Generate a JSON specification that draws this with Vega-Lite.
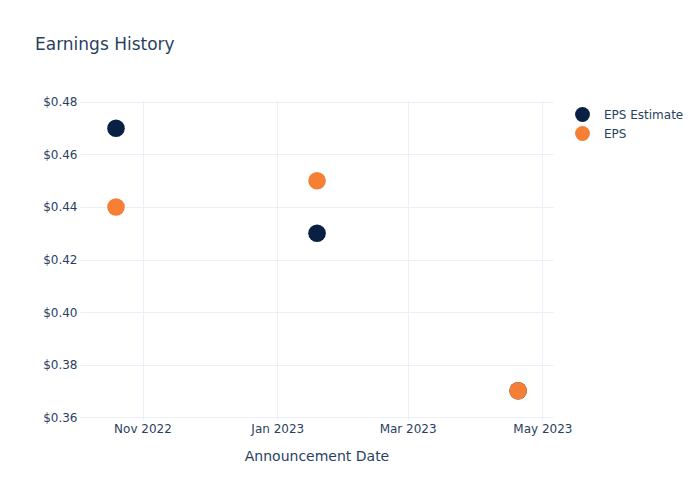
{
  "$schema": "https://vega.github.io/schema/vega-lite/v6.json",
  "width": 473,
  "height": 320,
  "autosize": "none",
  "padding": {"left": 80, "top": 100, "right": 147, "bottom": 80},
  "background": "white",
  "config": {
    "view": {"stroke": null},
    "font": "DejaVu Sans"
  },
  "title": {
    "text": "Earnings History",
    "anchor": "start",
    "frame": "group",
    "dx": -45,
    "offset": 42,
    "fontSize": 17,
    "fontWeight": "normal",
    "color": "#2a3f5f",
    "font": "DejaVu Sans"
  },
  "data": {
    "values": [
      {"date": "2022-10-20", "series": "EPS Estimate", "value": 0.47},
      {"date": "2023-01-19", "series": "EPS Estimate", "value": 0.43},
      {"date": "2023-04-20", "series": "EPS Estimate", "value": 0.37},
      {"date": "2022-10-20", "series": "EPS", "value": 0.44},
      {"date": "2023-01-19", "series": "EPS", "value": 0.45},
      {"date": "2023-04-20", "series": "EPS", "value": 0.37}
    ]
  },
  "mark": {"type": "point", "filled": true, "shape": "circle", "opacity": 1, "size": 310},
  "encoding": {
    "x": {
      "field": "date",
      "type": "temporal",
      "title": "Announcement Date",
      "scale": {"domain": ["2022-10-03T17:00:00", "2023-05-05T19:00:00"]},
      "axis": {
        "values": [
          {"year": 2022, "month": 11, "date": 1},
          {"year": 2023, "month": 1, "date": 1},
          {"year": 2023, "month": 3, "date": 1},
          {"year": 2023, "month": 5, "date": 1}
        ],
        "format": "%b %Y",
        "domain": false,
        "ticks": false,
        "labelPadding": 3,
        "labelFontSize": 12,
        "labelColor": "#2a3f5f",
        "labelFont": "DejaVu Sans",
        "gridColor": "#ebf0f8",
        "gridWidth": 1,
        "titleFontSize": 14,
        "titleFontWeight": "normal",
        "titleColor": "#2a3f5f",
        "titleFont": "DejaVu Sans",
        "titlePadding": 15
      }
    },
    "y": {
      "field": "value",
      "type": "quantitative",
      "title": null,
      "scale": {"domain": [0.35886, 0.48076], "nice": false, "zero": false},
      "axis": {
        "values": [0.36, 0.38, 0.40, 0.42, 0.44, 0.46, 0.48],
        "format": "$.2f",
        "domain": false,
        "ticks": false,
        "labelPadding": 3,
        "labelFontSize": 12,
        "labelColor": "#2a3f5f",
        "labelFont": "DejaVu Sans",
        "gridColor": "#ebf0f8",
        "gridWidth": 1
      }
    },
    "color": {
      "field": "series",
      "type": "nominal",
      "scale": {"domain": ["EPS Estimate", "EPS"], "range": ["#0a1f44", "#f57f35"]},
      "legend": {
        "title": null,
        "orient": "none",
        "legendX": 495,
        "legendY": 7,
        "symbolType": "circle",
        "symbolSize": 220,
        "symbolStrokeWidth": 0,
        "labelFontSize": 12,
        "labelColor": "#2a3f5f",
        "labelFont": "DejaVu Sans",
        "labelOffset": 14,
        "rowPadding": 4
      }
    },
    "order": {"field": "series", "sort": "descending"}
  }
}
